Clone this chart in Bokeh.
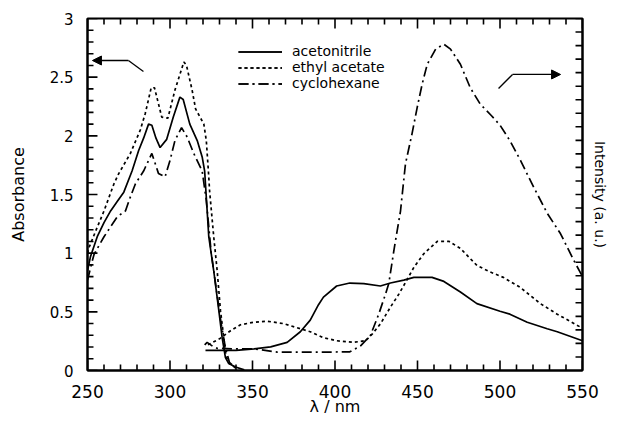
from bokeh.plotting import figure
from bokeh.models import (Range1d, LinearAxis, FixedTicker, Legend, LegendItem,
                          Arrow, NormalHead)
from bokeh.embed import file_html
from bokeh.resources import INLINE

# ---------------- data ----------------
# absorption spectra (left axis, Absorbance)
abs_acn_wl = [250, 251.8, 255.9, 260, 264, 268, 272, 277, 281, 284, 287, 289, 291.5, 294,
              298, 302, 306, 308, 312, 316.5, 319.5, 321, 323.5, 326.5, 329.6, 331.6,
              333.6, 335.6, 339.7, 345]
abs_acn = [0.85, 0.97, 1.14, 1.26, 1.36, 1.44, 1.52, 1.70, 1.875, 1.98, 2.10, 2.09, 1.98,
           1.90, 1.97, 2.16, 2.33, 2.31, 2.10, 1.96, 1.82, 1.70, 1.14, 0.85, 0.51, 0.28,
           0.11, 0.06, 0.03, 0.005]

abs_eta_wl = [250, 251, 255, 260, 266, 269, 276, 282, 285, 288.6, 290.6, 295, 298.7, 303,
              308.4, 310, 313.4, 315.5, 320.5, 322, 323.5, 324, 326.5, 328.6, 330.6, 332.6,
              334, 336, 340]
abs_eta = [1.0, 1.05, 1.19, 1.36, 1.59, 1.68, 1.85, 2.05, 2.19, 2.41, 2.41, 2.16, 2.15,
           2.39, 2.63, 2.60, 2.39, 2.23, 2.10, 1.96, 1.65, 1.53, 1.14, 0.85, 0.51, 0.28,
           0.12, 0.06, 0.02]

abs_chx_wl = [250, 253, 254, 260, 268, 273, 276, 279, 284, 285, 289, 293, 297, 300, 303,
              307, 310.4, 314.4, 319.5, 322, 325, 328, 331, 333.5, 336, 340]
abs_chx = [0.77, 0.94, 0.99, 1.14, 1.31, 1.36, 1.48, 1.59, 1.70, 1.73, 1.85, 1.68, 1.65,
           1.79, 1.96, 2.07, 1.99, 1.85, 1.70, 1.45, 1.0, 0.7, 0.4, 0.2, 0.07, 0.02]

# emission spectra (right axis, Intensity a.u.)
em_acn_wl = [321.5, 340, 351, 361, 371, 379, 385, 390, 393, 401, 409, 417.5, 427.5, 433.6,
             441.7, 447.8, 458.8, 466, 476, 486, 500, 506, 516.5, 528.6, 534.7, 550]
em_acn = [0.074, 0.074, 0.080, 0.087, 0.104, 0.143, 0.186, 0.243, 0.271, 0.312, 0.323,
          0.321, 0.312, 0.323, 0.334, 0.344, 0.344, 0.329, 0.290, 0.247, 0.219, 0.208,
          0.178, 0.154, 0.143, 0.110]

em_eta_wl = [323, 330, 336.7, 342.7, 350.6, 359, 369, 379, 385, 393, 401, 411, 418.5,
             422.5, 427.6, 433.6, 438.7, 442.7, 447.8, 453.8, 462, 469, 476, 486, 494,
             502, 512, 524.5, 534.7, 550]
em_eta = [0.095, 0.117, 0.147, 0.169, 0.178, 0.182, 0.173, 0.154, 0.143, 0.121, 0.110,
          0.104, 0.110, 0.134, 0.173, 0.234, 0.282, 0.325, 0.381, 0.431, 0.477, 0.477,
          0.451, 0.388, 0.364, 0.344, 0.308, 0.247, 0.208, 0.156]

em_chx_wl = [321, 322.5, 326.5, 328.6, 338.7, 351, 365, 379, 395, 409, 415.5, 421.5,
             426.5, 430.6, 432.6, 436, 439.7, 442.7, 446.7, 449.8, 452.8, 455.9, 461, 466,
             470, 476, 482, 488, 495, 500, 506, 512.4, 520.5, 528.6, 536.7, 544.7, 550]
em_chx = [0.095, 0.104, 0.087, 0.082, 0.080, 0.080, 0.068, 0.068, 0.068, 0.069, 0.091,
          0.130, 0.208, 0.282, 0.321, 0.455, 0.589, 0.763, 0.875, 0.971, 1.057, 1.131,
          1.187, 1.205, 1.187, 1.131, 1.044, 0.984, 0.940, 0.906, 0.849, 0.776, 0.676,
          0.581, 0.505, 0.407, 0.347]

series_names = ["acetonitrile", "ethyl acetate", "cyclohexane"]

x_ticks = [250, 300, 350, 400, 450, 500, 550]
x_tick_labels = ["250", "300", "350", "400", "450", "500", "550"]
y_ticks = [0, 0.5, 1, 1.5, 2, 2.5, 3]
y_tick_labels = ["0", "0.5", "1", "1.5", "2", "2.5", "3"]

X0, X1, Y0, Y1, I1 = 250, 550, 0, 3, 1.3

# ---------------- figure ----------------
FONT = "DejaVu Sans"
W, H = 610, 419
BL, BR, BT, BB = 87, 27, 18, 49
FW, FH = W - BL - BR, H - BT - BB          # frame size in px

p = figure(width=W, height=H, output_backend="svg", toolbar_location=None,
           title=None, x_range=Range1d(X0, X1), y_range=Range1d(Y0, Y1),
           min_border_left=BL, min_border_right=BR, min_border_top=BT,
           min_border_bottom=BB)
p.extra_y_ranges = {"intensity": Range1d(0, I1)}
p.xgrid.grid_line_color = None
p.ygrid.grid_line_color = None
p.outline_line_color = "black"
p.outline_line_width = 2
p.background_fill_color = "white"
p.border_fill_color = "white"

x_minor = [t for t in range(X0, X1 + 1, 10) if t not in x_ticks]
y_minor = [round(0.1 * i, 1) for i in range(31) if round(0.1 * i, 1) not in y_ticks]
i_ticks = [round(0.05 * i, 2) for i in range(1, 27)]

def style_axis(ax):
    ax.axis_line_width = 2
    ax.axis_line_color = "black"
    ax.major_tick_in = 0
    ax.major_tick_out = 0
    ax.minor_tick_in = 0
    ax.minor_tick_out = 0
    ax.major_label_text_font = FONT
    ax.major_label_text_color = "black"
    ax.axis_label_text_font = FONT
    ax.axis_label_text_font_style = "normal"
    ax.axis_label_text_color = "black"

xb = p.xaxis[0]
xb.ticker = FixedTicker(ticks=x_ticks, minor_ticks=[])
xb.major_label_overrides = dict(zip(x_ticks, x_tick_labels))
style_axis(xb)
xb.major_label_text_font_size = "17px"
xb.major_label_standoff = 14
xb.axis_label = "λ / nm"
xb.axis_label_text_font_size = "16px"
xb.axis_label_standoff = -4

yl = p.yaxis[0]
yl.ticker = FixedTicker(ticks=y_ticks, minor_ticks=[])
yl.major_label_overrides = dict(zip(y_ticks, y_tick_labels))
style_axis(yl)
yl.major_label_text_font_size = "15px"
yl.major_label_standoff = 14
yl.axis_label = "Absorbance"
yl.axis_label_text_font_size = "16px"
yl.axis_label_standoff = 19

yr = LinearAxis(y_range_name="intensity", ticker=FixedTicker(ticks=[], minor_ticks=[]))
style_axis(yr)
yr.major_label_standoff = 0
yr.axis_label = "Intensity (a. u.)"
yr.axis_label_text_font_size = "14px"
yr.axis_label_standoff = 9
p.add_layout(yr, "right")

# ---------------- curves ----------------
LW = 1.7
dashes = ["solid", "3 3", "10 4 2 4"]
abs_sets = [(abs_acn_wl, abs_acn), (abs_eta_wl, abs_eta), (abs_chx_wl, abs_chx)]
em_sets = [(em_acn_wl, em_acn), (em_eta_wl, em_eta), (em_chx_wl, em_chx)]

items = []
for name, dash, (aw, av), (ew, ev) in zip(series_names, dashes, abs_sets, em_sets):
    r1 = p.line(aw, av, line_color="black", line_width=LW, line_dash=dash)
    r2 = p.line(ew, ev, line_color="black", line_width=LW, line_dash=dash,
                y_range_name="intensity")
    items.append(LegendItem(label=name, renderers=[r1, r2]))

# ---------------- inward tick marks as thin filled bars ----------------
hx = 0.8 * (X1 - X0) / FW      # half bar width (px -> data) for vertical ticks
hy = 0.8 * (Y1 - Y0) / FH      # half bar height for horizontal ticks
hi = 0.8 * I1 / FH
py = (Y1 - Y0) / FH            # one px in y data units
px = (X1 - X0) / FW            # one px in x data units
TK = dict(fill_color="black", line_color=None)
for tks, L in ((x_ticks, 10), (x_minor, 6)):
    n = len(tks)
    p.quad(left=[t - hx for t in tks], right=[t + hx for t in tks],
           bottom=[Y0] * n, top=[Y0 + L * py] * n, **TK)
    p.quad(left=[t - hx for t in tks], right=[t + hx for t in tks],
           bottom=[Y1 - L * py] * n, top=[Y1] * n, **TK)
for tks, L in ((y_ticks, 10), (y_minor, 6)):
    n = len(tks)
    p.quad(left=[X0] * n, right=[X0 + L * px] * n,
           bottom=[t - hy for t in tks], top=[t + hy for t in tks], **TK)
n = len(i_ticks)
p.quad(left=[X1 - 7 * px] * n, right=[X1] * n,
       bottom=[t - hi for t in i_ticks], top=[t + hi for t in i_ticks],
       y_range_name="intensity", **TK)

legend = Legend(items=items, location=(151, 279), border_line_alpha=0,
                background_fill_alpha=0, glyph_width=44, glyph_height=13,
                label_standoff=10, spacing=-3, padding=0, margin=0,
                label_height=13, label_text_font=FONT,
                label_text_font_size="14px", label_text_color="black")
p.add_layout(legend, "center")

# arrows indicating which axis each set of curves belongs to
head = dict(size=9, fill_color="black", line_color="black")
p.add_layout(Arrow(end=NormalHead(**head), x_start=274.8, y_start=2.642,
                   x_end=253.0, y_end=2.642, line_width=1.3))
p.add_layout(Arrow(end=None, x_start=274.8, y_start=2.642, x_end=283.9,
                   y_end=2.548, line_width=1.3))
p.add_layout(Arrow(end=NormalHead(**head), x_start=507.6, y_start=2.523,
                   x_end=536.7, y_end=2.523, line_width=1.3))
p.add_layout(Arrow(end=None, x_start=499.1, y_start=2.403, x_end=507.6,
                   y_end=2.523, line_width=1.3))

open("out.html", "w").write(file_html(p, INLINE))
